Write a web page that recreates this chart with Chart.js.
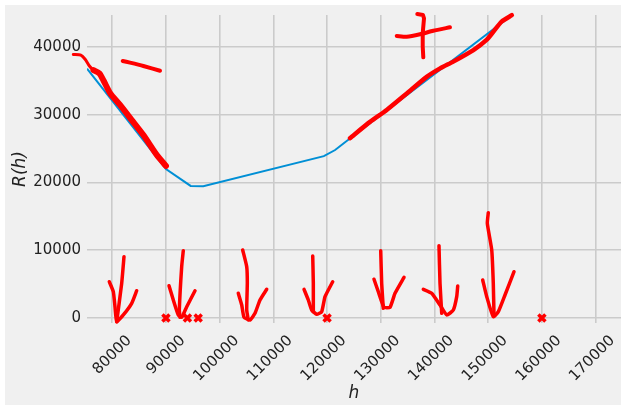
<!DOCTYPE html>
<html>
<head>
<meta charset="utf-8">
<script src="https://cdn.jsdelivr.net/npm/chart.js@4.4.1/dist/chart.umd.min.js"></script>
<style>
  html, body { margin: 0; padding: 0; background: #ffffff; }
  canvas { display: block; }
</style>
</head>
<body>
<canvas id="rChart" width="621" height="405"></canvas>
<script>
// the curve R(h)
const hLine = [75300, 90000, 94600, 96950, 119400, 121500, 124250, 154400];
const rLine = [36800, 22000, 19500, 19450, 23900, 24800, 26500, 44700];

// red X markers on the axis
const knotH = [90000, 94000, 96000, 120000, 160000];
const knotR = [0, 0, 0, 0, 0];

const hTicks = [80000, 90000, 100000, 110000, 120000, 130000, 140000, 150000, 160000, 170000];
const rTicks = [0, 10000, 20000, 30000, 40000];

// hand drawn pen strokes, as [h, R] pairs
// (the thin start is listed right to left: chart.js skips leading points left of x.min on sorted data)
const traceLeftThin = [[77600, 36100], [76500, 36600], [75750, 37200], [74950, 38200], [74150, 38800], [72750, 38900]];
const traceLeftThick = [[76500, 36600], [77600, 36100], [78350, 35100], [79600, 33200], [81450, 31450],
  [83600, 29250], [85800, 27000], [88300, 24050], [90000, 22450]];
const traceRight = [[124250, 26550], [128000, 28950], [131100, 30700], [134850, 33150], [138550, 35600],
  [141050, 36850], [143500, 37850], [147250, 39550], [149700, 41050], [150950, 42250], [152500, 43750], [154400, 44700]];
const minusSign = [[81950, 37950], [83300, 37700], [85800, 37200], [88900, 36500]];
const plusBar = [[132970, 41630], [134830, 41520], [137300, 41880], [139780, 42410], [142890, 42910]];
const plusStem = [[136800, 44870], [137860, 44730], [138050, 44240], [137810, 42030], [137810, 40050], [137920, 38480]];

const arrowShafts = [
  [[82190, 9050], [81760, 5120], [80830, -540]],
  [[93230, 9940], [92930, 7580], [92490, 1180], [92620, 110]],
  [[104290, 10040], [105040, 7580], [105150, 5120], [105040, 1180], [105330, -290]],
  [[117330, 9150], [117440, 5120], [117440, 940]],
  [[129990, 9940], [130170, 5120], [130470, 1430]],
  [[140840, 10680], [141030, 5120], [141350, 700]],
  [[150020, 15550], [149840, 13980], [150660, 10040], [150950, 5120], [151080, 450]]
];
const arrowHeads = [
  [[79450, 5360], [80200, 3890], [80510, 1670], [80830, -540], [82060, 450], [83620, 2170], [84550, 4030]],
  [[90570, 4770], [91370, 2660], [92300, 450], [92930, 110], [93870, 1670], [95410, 4030]],
  [[103470, 3650], [104110, 1920], [104530, 110], [105650, -290], [106580, 700], [107510, 2660], [108760, 4240]],
  [[115710, 4240], [116510, 2660], [117140, 1180], [118070, 550], [119000, 940], [119620, 3150], [121050, 5360]],
  [[128740, 5720], [129540, 3890], [130600, 1580], [131720, 1580], [132650, 3650], [134330, 6010]],
  [[137920, 4240], [139480, 3650], [141030, 1920], [142280, 450], [143510, 1180], [144140, 3150], [144330, 4730]],
  [[148980, 5610], [149730, 3150], [150950, 190], [151890, 940], [153130, 3400], [154810, 6840]]
];

function penStroke(points, width, tension) {
  return {
    data: points,
    borderColor: '#ff0000',
    borderWidth: width,
    borderCapStyle: 'round',
    borderJoinStyle: 'round',
    pointRadius: 0,
    tension: tension,
    clip: false,
    order: 0
  };
}

const strokes = [
  penStroke(traceLeftThin, 3, 0.2),
  penStroke(traceLeftThick, 6, 0.2),
  penStroke(traceRight, 4.5, 0.2),
  penStroke(minusSign, 4, 0.2),
  penStroke(plusBar, 4, 0.2),
  penStroke(plusStem, 4, 0)
];
arrowShafts.forEach(s => strokes.push(penStroke(s, 3.5, 0.15)));
arrowHeads.forEach(s => strokes.push(penStroke(s, 3.5, 0.15)));

const pageBackground = {
  id: 'pageBackground',
  beforeDraw(chart) {
    const ctx = chart.ctx;
    ctx.save();
    ctx.fillStyle = '#ffffff';
    ctx.fillRect(0, 0, chart.width, chart.height);
    ctx.fillStyle = '#f0f0f0';
    ctx.fillRect(5, 5, chart.width - 5, chart.height - 5);
    ctx.restore();
  }
};

const ctx = document.getElementById('rChart').getContext('2d');
new Chart(ctx, {
  type: 'line',
  data: {
    datasets: [
      {
        data: hLine.map((h, i) => [h, rLine[i]]),
        borderColor: '#008fd5',
        borderWidth: 2,
        pointRadius: 0,
        tension: 0,
        order: 10
      },
      {
        data: knotH.map((h, i) => [h, knotR[i]]),
        showLine: false,
        pointStyle: 'crossRot',
        pointRadius: 5,
        pointBorderWidth: 3.5,
        pointBorderColor: '#ff0000',
        pointBackgroundColor: '#ff0000',
        clip: false,
        order: 5
      },
      ...strokes
    ]
  },
  options: {
    responsive: false,
    animation: false,
    layout: { autoPadding: false, padding: { top: 15, right: 0, left: 0, bottom: 0 } },
    plugins: { legend: { display: false }, tooltip: { enabled: false } },
    scales: {
      x: {
        type: 'linear',
        min: 75300,
        max: 174730,
        afterBuildTicks: scale => { scale.ticks = hTicks.map(v => ({ value: v })); },
        afterFit: scale => {
          scale.height = 82;
          scale.paddingLeft = 0;
          scale.paddingRight = 0;
        },
        grid: { color: '#cbcbcb', lineWidth: 1.6, drawTicks: false },
        border: { display: false },
        ticks: {
          minRotation: 45,
          maxRotation: 45,
          padding: 9,
          labelOffset: 17,
          color: '#222222',
          font: { family: 'DejaVu Sans', size: 15 },
          callback: v => String(v)
        },
        title: {
          display: true,
          text: 'h',
          color: '#222222',
          font: { family: 'DejaVu Sans', size: 17, style: 'italic' },
          padding: { top: 0, bottom: 1 }
        }
      },
      y: {
        type: 'linear',
        min: -735,
        max: 44730,
        afterBuildTicks: scale => { scale.ticks = rTicks.map(v => ({ value: v })); },
        afterFit: scale => { scale.width = 87; },
        grid: { color: '#cbcbcb', lineWidth: 1.6, drawTicks: false },
        border: { display: false },
        ticks: {
          padding: 6,
          color: '#222222',
          font: { family: 'DejaVu Sans', size: 15 },
          callback: v => String(v)
        },
        title: {
          display: true,
          text: 'R(h)',
          color: '#222222',
          font: { family: 'DejaVu Sans', size: 17, style: 'italic' },
          padding: { top: 10, bottom: 0 }
        }
      }
    }
  },
  plugins: [pageBackground]
});
</script>
</body>
</html>
